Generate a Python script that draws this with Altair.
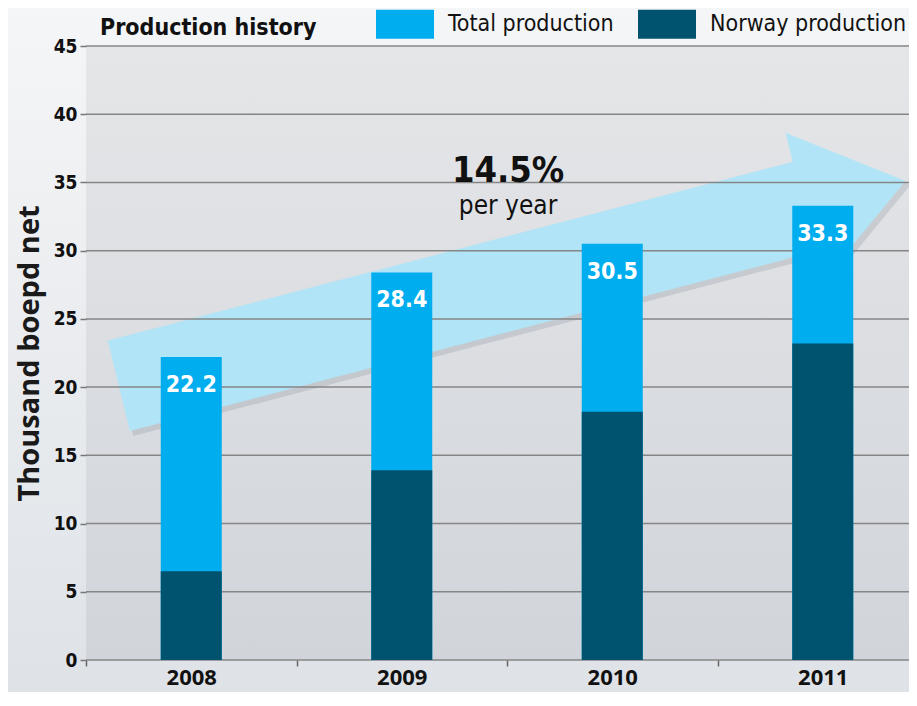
import altair as alt
import pandas as pd

# ---- data ----
years = ["2008", "2009", "2010", "2011"]
total = [22.2, 28.4, 30.5, 33.3]
norway = [6.5, 13.9, 18.2, 23.2]
series = ["Total production", "Norway production"]
colors = ["#00adef", "#00536f"]
y_ticks = [0, 5, 10, 15, 20, 25, 30, 35, 40, 45]

# growth arrow outline (x in category-slot units, y in thousand boepd)
arrow_x = [0.105, 3.359, 3.325, 3.891, 3.513, 3.477, 0.209]
arrow_y = [23.4, 36.5, 38.6, 35.1, 28.0, 30.0, 16.8]
growth_label = "14.5%"
growth_sub = "per year"
growth_pos = (2.005, 35.05, 32.7)
chart_title = "Production history"

W, H = 823, 614
XR = 842
COND = "'DejaVu Sans Condensed', 'Liberation Sans Narrow', sans-serif"
BOLD = "'Open Sans', 'DejaVu Sans', sans-serif"
YTITLE = "Thousand boepd net"

rows = []
for s, vals in zip(series, [total, norway]):
    for yr, v in zip(years, vals):
        rows.append({"year": yr, "series": s, "value": v})
bars_df = pd.DataFrame(rows)
tot_df = pd.DataFrame({"year": years, "total": total})
arrow_df = pd.DataFrame({"i": list(range(len(arrow_x))), "ax": arrow_x, "ay": arrow_y})
shadow_df = pd.DataFrame({"i": list(range(len(arrow_x))),
                          "ax": [a + 4 / (XR / 4) for a in arrow_x],
                          "ay": [b - 4 * 45 / H for b in arrow_y]})
grid_df = pd.DataFrame({"v": y_ticks})
ann_df = pd.DataFrame({"gx": [growth_pos[0], growth_pos[0]],
                       "gy": [growth_pos[1], growth_pos[2]],
                       "t": [growth_label, growth_sub]})

yscale = alt.Scale(domain=[0, 45], nice=False, zero=True)
xband = alt.Scale(domain=years, range=[0, XR], paddingInner=0, paddingOuter=0)
xq = alt.Scale(domain=[0, 4], range=[0, XR], nice=False, zero=False)
dummy = alt.Data(values=[{}])


def yax():
    return alt.Axis(zindex=1, values=y_ticks, grid=False, domain=False,
                    labelFont=COND, labelFontSize=19, labelFontWeight="bold",
                    labelColor="#111111", labelPadding=3, tickColor="#777777",
                    tickSize=6, tickWidth=1.5, titleFont=BOLD, titleFontSize=29,
                    titleFontWeight="bold", titleColor="#1a1a1a", titlePadding=9)


outer_bg = alt.Chart(dummy).mark_rect(
    color=alt.Gradient(gradient="linear", x1=0, x2=0, y1=0, y2=1,
                       stops=[alt.GradientStop(color="#f5f6f7", offset=0),
                              alt.GradientStop(color="#dee2e7", offset=1)])
).encode(x=alt.value(-90), x2=alt.value(W + 20), y=alt.value(-50), y2=alt.value(H + 50))

plot_bg = alt.Chart(dummy).mark_rect(
    color=alt.Gradient(gradient="linear", x1=0, x2=0, y1=0, y2=1,
                       stops=[alt.GradientStop(color="#e5e6e8", offset=0),
                              alt.GradientStop(color="#d1d5db", offset=1)])
).encode(x=alt.value(0), x2=alt.value(W + 20), y=alt.value(0), y2=alt.value(H))

shadow = alt.Chart(shadow_df).mark_line(
    interpolate="linear-closed", fill="#6f7b86", stroke="#6f7b86", strokeWidth=2,
    opacity=0.2
).encode(x=alt.X("ax:Q", scale=xq, axis=None),
         y=alt.Y("ay:Q", scale=yscale, title=YTITLE, axis=yax()),
         order="i:Q")

arrow = alt.Chart(arrow_df).mark_line(
    interpolate="linear-closed", fill="#b1e4f6", stroke="#b1e4f6", strokeWidth=0.5
).encode(x=alt.X("ax:Q", scale=xq, axis=None),
         y=alt.Y("ay:Q", scale=yscale, title=YTITLE, axis=yax()),
         order="i:Q")

grid = alt.Chart(grid_df).mark_rule(color="#868686", strokeWidth=1.5).encode(
    y=alt.Y("v:Q", scale=yscale, title=YTITLE, axis=yax()))

bars = alt.Chart(bars_df).mark_bar(size=61).encode(
    x=alt.X("year:N", scale=xband, sort=years, title=None,
            axis=alt.Axis(labelAngle=0, tickBand="extent", zindex=1, grid=False,
                          domain=False, labelFont=BOLD, labelFontSize=22,
                          labelFontWeight="bold", labelColor="#111111", labelPadding=1,
                          tickColor="#666666", tickSize=6, tickWidth=1.5)),
    y=alt.Y("value:Q", scale=yscale, stack=None, title=YTITLE, axis=yax()),
    color=alt.Color("series:N", scale=alt.Scale(domain=series, range=colors),
                    legend=alt.Legend(
                        title=None, orient="none", legendX=290, legendY=-51,
                        direction="horizontal",
                        labelFont=COND, labelFontSize=23, labelFontWeight="normal",
                        labelColor="#111111", labelOffset=14, columnPadding=24,
                        labelLimit=500,
                        symbolType="M-1,-0.5H1V0.5H-1Z", symbolSize=3364,
                        symbolStrokeWidth=0, symbolOpacity=1, padding=0)),
)

title_mark = alt.Chart(alt.Data(values=[{"t": chart_title}])).mark_text(
    align="left", baseline="alphabetic", font=COND, fontSize=23, fontWeight="bold",
    color="#111111"
).encode(x=alt.value(14), y=alt.value(-11), text="t:N")

labels = alt.Chart(tot_df).mark_text(
    color="white", font=COND, fontSize=23, fontWeight="bold", dy=35,
    baseline="alphabetic", align="center"
).encode(x=alt.X("year:N", scale=xband, sort=years, axis=None),
         y=alt.Y("total:Q", scale=yscale, title=YTITLE, axis=yax()),
         text=alt.Text("total:Q", format=".1f"))

ann_big = alt.Chart(ann_df.iloc[[0]]).mark_text(
    font=COND, fontSize=36, fontWeight="bold", color="#111111", baseline="alphabetic"
).encode(x=alt.X("gx:Q", scale=xq, axis=None),
         y=alt.Y("gy:Q", scale=yscale, title=YTITLE, axis=yax()), text="t:N")

ann_small = alt.Chart(ann_df.iloc[[1]]).mark_text(
    font=COND, fontSize=26, fontWeight="normal", color="#111111", baseline="alphabetic"
).encode(x=alt.X("gx:Q", scale=xq, axis=None),
         y=alt.Y("gy:Q", scale=yscale, title=YTITLE, axis=yax()), text="t:N")

chart = alt.layer(
    outer_bg, plot_bg, shadow, arrow, grid, bars, labels, ann_big, ann_small, title_mark
).resolve_scale(x="independent").properties(
    width=W, height=H,
    autosize=alt.AutoSizeParams(type="none"),
    padding={"left": 78, "top": 38, "right": 0, "bottom": 32},
).configure_view(strokeWidth=0)

chart.save("out.html", embed_options={"renderer": "svg", "actions": False})
